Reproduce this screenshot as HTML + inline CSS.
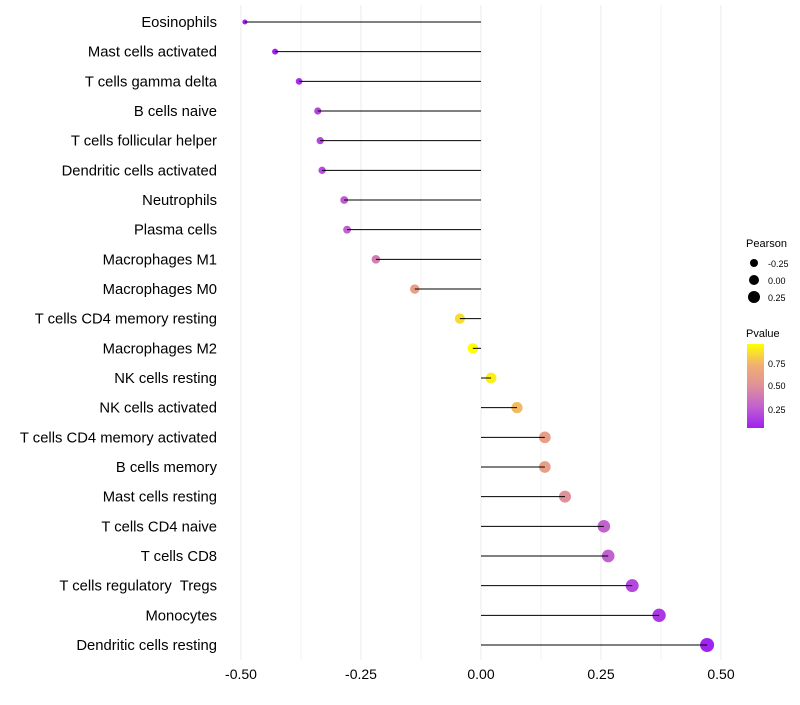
<!DOCTYPE html>
<html><head><meta charset="utf-8"><style>
body{margin:0;background:#fff;font-family:"Liberation Sans",sans-serif;}
text{white-space:pre;}
</style></head><body>
<svg id="chart" width="800" height="700" xmlns="http://www.w3.org/2000/svg">
<g id="grid"></g><g id="marks"></g><g id="labels"></g>
<g id="legend">
<text x="746" y="247" font-size="11" fill="#000">Pearson</text>
<circle cx="754" cy="263" r="4" fill="#000"/>
<text x="768" y="267" font-size="9" fill="#000">-0.25</text>
<circle cx="754" cy="280" r="5" fill="#000"/>
<text x="768" y="284" font-size="9" fill="#000">0.00</text>
<circle cx="754" cy="297" r="6" fill="#000"/>
<text x="768" y="301" font-size="9" fill="#000">0.25</text>
<text x="746" y="337" font-size="11" fill="#000">Pvalue</text>
<defs><linearGradient id="pg" x1="0" y1="1" x2="0" y2="0">
<stop offset="0" stop-color="#a020f0"/><stop offset="0.25" stop-color="#c060d0"/><stop offset="0.5" stop-color="#e0909a"/><stop offset="0.75" stop-color="#f0b070"/><stop offset="1" stop-color="#ffff00"/></linearGradient></defs>
<rect x="747" y="344" width="17" height="84" fill="url(#pg)"/>
<text x="768" y="367" font-size="9" fill="#000">0.75</text>
<text x="768" y="389" font-size="9" fill="#000">0.50</text>
<text x="768" y="413" font-size="9" fill="#000">0.25</text>
</g>
</svg>
<script>
const categories=["Eosinophils","Mast cells activated","T cells gamma delta","B cells naive","T cells follicular helper","Dendritic cells activated","Neutrophils","Plasma cells","Macrophages M1","Macrophages M0","T cells CD4 memory resting","Macrophages M2","NK cells resting","NK cells activated","T cells CD4 memory activated","B cells memory","Mast cells resting","T cells CD4 naive","T cells CD8","T cells regulatory  Tregs","Monocytes","Dendritic cells resting"];
const pearson=[-0.492,-0.429,-0.379,-0.340,-0.335,-0.331,-0.285,-0.279,-0.219,-0.138,-0.044,-0.017,0.021,0.075,0.133,0.133,0.175,0.256,0.265,0.315,0.371,0.471];
const pvalues=[0.02,0.05,0.10,0.17,0.18,0.19,0.25,0.27,0.40,0.60,0.85,0.95,0.90,0.75,0.60,0.60,0.50,0.28,0.27,0.18,0.12,0.05];
const ticks=[-0.5,-0.25,0,0.25,0.5];
const tickLabels=["-0.50","-0.25","0.00","0.25","0.50"];
const NS="http://www.w3.org/2000/svg";
const xs=v=>481+v*480;
const ys=i=>22+i*(623/21);
const stops=[[0,[160,32,240]],[0.25,[192,96,208]],[0.5,[224,144,154]],[0.75,[240,176,112]],[1,[255,255,0]]];
function col(p){let t=Math.max(0,Math.min(1,(p-0.04)/0.91));for(let k=1;k<stops.length;k++){if(t<=stops[k][0]){const a=stops[k-1],b=stops[k];const f=(t-a[0])/(b[0]-a[0]);return 'rgb('+a[1].map((c,j)=>Math.round(c+(b[1][j]-c)*f)).join(',')+')';}}return 'rgb(255,255,0)';}
function mk(tag,attrs,parent){const e=document.createElementNS(NS,tag);for(const k in attrs)e.setAttribute(k,attrs[k]);parent.appendChild(e);return e;}
const grid=document.getElementById('grid'),marks=document.getElementById('marks'),labels=document.getElementById('labels');
for(let v=-0.5;v<=0.5001;v+=0.125){const l=mk('line',{x1:xs(v),x2:xs(v),y1:5,y2:660,stroke:'#ebebeb','stroke-width':Math.abs((v*4)%1)<1e-6?1:0.6},grid);

}
ticks.forEach((v,i)=>{const t=mk('text',{x:xs(v),y:679,'font-size':14,'text-anchor':'middle',fill:'#000'},labels);t.textContent=tickLabels[i];

});
categories.forEach((c,i)=>{const y=ys(i);
const t=mk('text',{x:217,y:y+5,'font-size':14.8,'text-anchor':'end',fill:'#000'},labels);t.textContent=c;


const d=mk('circle',{cx:xs(pearson[i]),cy:y,r:Math.sqrt(Math.max(2,28.1+44.4*pearson[i])),fill:col(pvalues[i])},marks);


const s=mk('line',{x1:xs(0),x2:xs(pearson[i]),y1:y,y2:y,stroke:'#000','stroke-width':1},marks);

});
</script>
</body></html>
